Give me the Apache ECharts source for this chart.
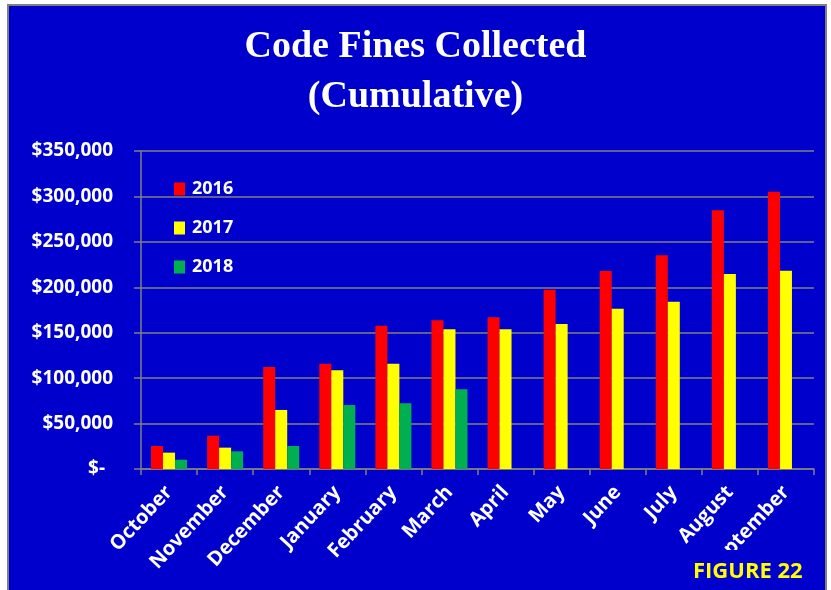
<!DOCTYPE html>
<html lang="en">
<head>
    <meta charset="UTF-8">
    <title>Code Fines Collected</title>
    <style>
        html, body { margin: 0; padding: 0; background: #fff; }
        #chart { width: 831px; height: 590px; }
    </style>
</head>
<body>
    <div id="chart"></div>
    <script src="https://cdn.jsdelivr.net/npm/echarts@6/dist/echarts.min.js"></script>
    <script>
        var months = ['October', 'November', 'December', 'January', 'February', 'March',
            'April', 'May', 'June', 'July', 'August', 'September'];
        var fines2016 = [25300, 36700, 112300, 115900, 157700, 163600, 166900, 197400, 217900, 235200, 284700, 305200];
        var fines2017 = [18000, 23500, 65000, 108600, 115900, 153700, 153700, 159600, 176500, 184200, 214600, 218300];
        var fines2018 = [10200, 19400, 25300, 70400, 72300, 87700, null, null, null, null, null, null];
        var yTicks = [0, 50000, 100000, 150000, 200000, 250000, 300000, 350000];

        var labelFont = 'Open Sans';
        var chart = echarts.init(document.getElementById('chart'));

        function money(v) {
            if (v === 0) return '{z|$-}';
            return '$' + v.toLocaleString('en-US');
        }

        var option = {
            backgroundColor: '#ffffff',
            animation: false,
            graphic: [
                {
                    type: 'rect',
                    z: -10,
                    shape: { x: 8, y: 5, width: 818, height: 640 },
                    style: { fill: '#0000cc', stroke: '#808080', lineWidth: 2 }
                },
                {
                    type: 'rect',
                    z: 100,
                    shape: { x: 700, y: 550, width: 125, height: 40 },
                    style: { fill: '#0000cc' }
                },
                {
                    type: 'text',
                    z: 101,
                    x: 693,
                    y: 561,
                    style: {
                        text: 'FIGURE 22',
                        fill: '#ffff00',
                        font: 'bold 22px "Open Sans"'
                    }
                }
            ],
            title: {
                text: 'Code Fines Collected\n(Cumulative)',
                left: 'center',
                top: 22,
                padding: 0,
                textStyle: {
                    color: '#ffffff',
                    fontFamily: 'Liberation Serif',
                    fontWeight: 'bold',
                    fontSize: 38,
                    lineHeight: 50
                }
            },
            legend: {
                orient: 'vertical',
                left: 174,
                top: 180,
                padding: 0,
                itemWidth: 11,
                itemHeight: 13,
                itemGap: 21,
                icon: 'rect',
                textStyle: {
                    color: '#ffffff',
                    fontFamily: labelFont,
                    fontWeight: 'bold',
                    fontSize: 18,
                    padding: [0, 0, 0, 2]
                },
                data: ['2016', '2017', '2018']
            },
            grid: {
                left: 141,
                right: 17,
                top: 151,
                bottom: 121
            },
            xAxis: {
                type: 'category',
                data: months,
                axisLine: { lineStyle: { color: '#808080', width: 1.5 } },
                axisTick: { show: true, length: 6, lineStyle: { color: '#808080', width: 1.5 } },
                axisLabel: {
                    rotate: 47,
                    margin: 20,
                    interval: 0,
                    color: '#ffffff',
                    fontFamily: labelFont,
                    fontWeight: 'bold',
                    fontSize: 20
                }
            },
            yAxis: {
                type: 'value',
                min: yTicks[0],
                max: yTicks[yTicks.length - 1],
                interval: 50000,
                axisLine: { show: true, lineStyle: { color: '#808080', width: 1.5 } },
                axisTick: { show: true, length: 7, lineStyle: { color: '#808080', width: 1.5 } },
                splitLine: { lineStyle: { color: '#808080', width: 1.5 } },
                axisLabel: {
                    margin: 28,
                    color: '#ffffff',
                    fontFamily: labelFont,
                    fontWeight: 'bold',
                    fontSize: 19,
                    formatter: money,
                    rich: {
                        z: {
                            color: '#ffffff',
                            fontFamily: labelFont,
                            fontWeight: 'bold',
                            fontSize: 19,
                            padding: [0, 8, 0, 0]
                        }
                    }
                }
            },
            series: [
                {
                    name: '2016',
                    type: 'bar',
                    barWidth: 12,
                    barGap: '0%',
                    itemStyle: { color: '#ff0000' },
                    data: fines2016
                },
                {
                    name: '2017',
                    type: 'bar',
                    barWidth: 12,
                    barGap: '0%',
                    itemStyle: { color: '#ffff00' },
                    data: fines2017
                },
                {
                    name: '2018',
                    type: 'bar',
                    barWidth: 12,
                    barGap: '0%',
                    itemStyle: { color: '#00b050' },
                    data: fines2018
                }
            ]
        };

        chart.setOption(option);
    </script>
</body>
</html>
